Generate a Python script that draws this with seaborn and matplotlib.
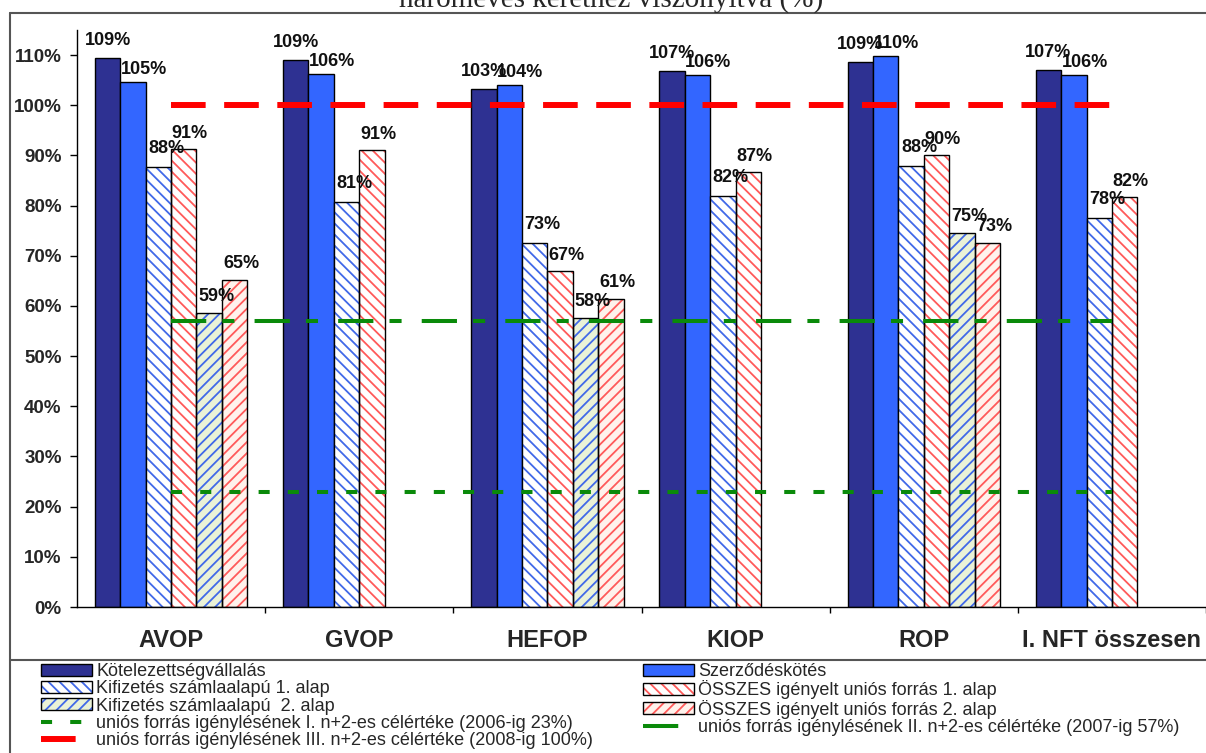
import numpy as np
import pandas as pd
import matplotlib.pyplot as plt
from matplotlib.patches import Patch, Rectangle
from matplotlib.lines import Line2D
import seaborn as sns

# Data
programs = ["AVOP", "GVOP", "HEFOP", "KIOP", "ROP", "I. NFT összesen"]
series = [
    "Kötelezettségvállalás",
    "Szerződéskötés",
    "Kifizetés számlaalapú 1. alap",
    "ÖSSZES igényelt uniós forrás 1. alap",
    "Kifizetés számlaalapú  2. alap",
    "ÖSSZES igényelt uniós forrás 2. alap",
]
kotelezettseg = [109.4, 109.0, 103.2, 106.8, 108.7, 107.0]
szerzodes = [104.7, 106.3, 104.1, 106.0, 109.8, 106.0]
kifizetes_1 = [87.6, 80.7, 72.6, 82.0, 87.9, 77.6]
osszes_1 = [91.2, 91.0, 66.9, 86.7, 90.1, 81.7]
kifizetes_2 = [58.6, np.nan, 57.6, np.nan, 74.6, np.nan]
osszes_2 = [65.2, np.nan, 61.3, np.nan, 72.6, np.nan]

target_values = [23, 57, 100]
target_labels = [
    "uniós forrás igénylésének I. n+2-es célértéke (2006-ig 23%)",
    "uniós forrás igénylésének II. n+2-es célértéke (2007-ig 57%)",
    "uniós forrás igénylésének III. n+2-es célértéke (2008-ig 100%)",
]
title = "hároméves kerethez viszonyítva (%)"

# Styles
face_colors = ["#2E3192", "#3366FF", "#FFFFFF", "#FFFFFF", "#EAF2D7", "#FFF2EC"]
hatches = [None, None, "\\\\\\", "\\\\\\", "///", "///"]
hatch_colors = [None, None, "#4169E8", "#FF5A5A", "#4169E8", "#FF5A5A"]
# label offsets per series (x shift, gap above bar) in pixels
label_dx = [0, 11, 8, 6, 7, 7]
label_dy = [9, 4, 10, 7, 8, 8]
target_styles = [
    dict(color="#0A8A0A", lw=2.9, ls=(0, (2.75, 4.5))),
    dict(color="#0A8A0A", lw=2.9, ls=(0, (8.75, 4.0, 3.0, 5.0))),
    dict(color="#FF0000", lw=4.3, ls=(0, (5.8, 3.1))),
]

sns.set_theme(style="white")
plt.rcParams["font.family"] = ["Liberation Sans", "DejaVu Sans"]
plt.rcParams["hatch.linewidth"] = 1.3

rows = []
for name, vals in zip(series, [kotelezettseg, szerzodes, kifizetes_1, osszes_1, kifizetes_2, osszes_2]):
    for prog, v in zip(programs, vals):
        rows.append({"program": prog, "series": name, "value": v})
df = pd.DataFrame(rows)

W, H = 1206, 753
PX = 0.72  # points per pixel at dpi 100
fig = plt.figure(figsize=(W / 100, H / 100), dpi=100)
ax = fig.add_axes([77 / W, 146 / H, (W - 77) / W, 577 / H])

sns.barplot(
    data=df, x="program", y="value", hue="series",
    order=programs, hue_order=series,
    palette=dict(zip(series, face_colors)), saturation=1,
    width=0.81, edgecolor="black", linewidth=1,
    errorbar=None, legend=False, ax=ax,
)

# hatching with coloured lines + black outline on top
for i, cont in enumerate(ax.containers):
    if hatches[i]:
        for bar in cont:
            bar.set_hatch(hatches[i])
            bar.set_edgecolor(hatch_colors[i])
            bar.set_linewidth(0)
            ax.add_patch(Rectangle(bar.get_xy(), bar.get_width(), bar.get_height(),
                                   fill=False, edgecolor="black", lw=1, zorder=bar.get_zorder() + 0.1))
    labels = ax.bar_label(cont, fmt="{:.0f}%", padding=label_dy[i] * PX, fontsize=13,
                          fontweight="bold", color="#111111")
    for t in labels:
        t.xyann = (label_dx[i] * PX, label_dy[i] * PX)
        t.set_zorder(6)

# target lines
xs = [0, len(programs) - 1]
for v, st in zip(target_values, target_styles):
    ax.plot(xs, [v, v], color=st["color"], lw=st["lw"], linestyle=st["ls"],
            dash_capstyle="butt", zorder=5)

ax.set_ylim(0, 115)
ax.set_xlim(-0.5, -0.5 + (W - 77) / 190)
yt = list(range(0, 111, 10))
ax.set_yticks(yt)
ax.set_yticklabels([f"{t}%" for t in yt], fontweight="bold")
ax.set_xticks(range(len(programs)))
ax.set_xticklabels(programs, fontweight="bold")
ax.set_xticks(np.arange(len(programs)) + 0.5, minor=True)
ax.tick_params(axis="y", direction="out", length=5, width=1, pad=6, labelsize=13.5, color="black", left=True)
ax.tick_params(axis="x", which="major", length=0, pad=16, labelsize=17)
ax.tick_params(axis="x", which="minor", direction="out", length=4, width=1, color="black", bottom=True)
ax.set_xlabel("")
ax.set_ylabel("")
for side in ["top", "right"]:
    ax.spines[side].set_visible(False)
for side in ["left", "bottom"]:
    ax.spines[side].set_color("black")
    ax.spines[side].set_linewidth(1)

# outer chart frame
frame_kw = dict(color="#555555", lw=1.5, transform=fig.transFigure)
fig.add_artist(Line2D([10 / W, 10 / W], [0, 1 - 12.5 / H], **frame_kw))
fig.add_artist(Line2D([10 / W, 1], [1 - 12.5 / H, 1 - 12.5 / H], **frame_kw))
fig.add_artist(Line2D([10 / W, 1], [1 - 660 / H, 1 - 660 / H], **frame_kw))

fig.text(611 / W, 1 - 7 / H, title, ha="center", va="baseline", fontsize=21,
         family=["Liberation Serif", "DejaVu Serif"])

# legends
def bar_handle(i):
    if hatches[i]:
        return (Patch(facecolor=face_colors[i], edgecolor=hatch_colors[i], hatch=hatches[i], lw=0),
                Patch(facecolor="none", edgecolor="black", lw=1))
    return Patch(facecolor=face_colors[i], edgecolor="black", lw=1)

def line_handle(j):
    st = target_styles[j]
    return Line2D([], [], color=st["color"], lw=st["lw"], linestyle=st["ls"], dash_capstyle="butt")

left_h = [bar_handle(0), bar_handle(2), bar_handle(4), line_handle(0), line_handle(2)]
left_l = [series[0], series[2], series[4], target_labels[0], target_labels[2]]
right_h = [bar_handle(1), bar_handle(3), bar_handle(5), line_handle(1)]
right_l = [series[1], series[3], series[5], target_labels[1]]

leg_kw = dict(loc="upper left", frameon=False, fontsize=13, handlelength=2.85, handleheight=0.65,
              handletextpad=0.2, labelspacing=0.02, borderpad=0, borderaxespad=0)
fig.legend(left_h, left_l, bbox_to_anchor=(41 / W, 1 - 663 / H), **leg_kw)
fig.legend(right_h, right_l, bbox_to_anchor=(643 / W, 1 - 663 / H), **leg_kw)

fig.savefig("out.png", dpi=100)
